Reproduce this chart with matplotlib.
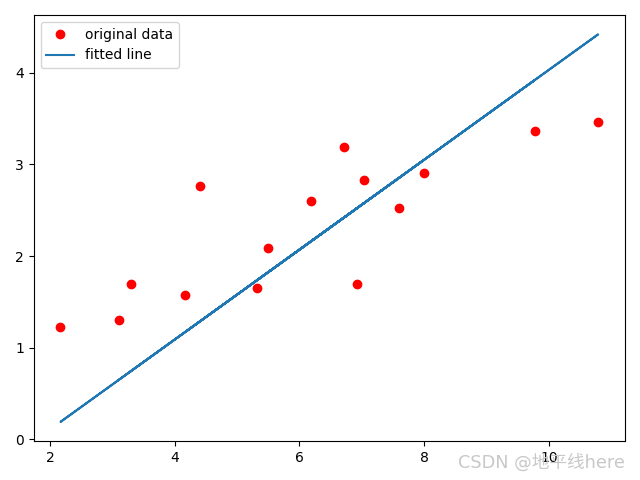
import matplotlib.pyplot as plt

plt.rcParams['font.family'] = ['DejaVu Sans', 'Noto Sans CJK SC']

# training data
x_train = [3.3, 4.4, 5.5, 6.71, 6.93, 4.168, 9.779, 6.182, 7.59, 2.167,
           7.042, 10.791, 5.313, 7.997, 3.1]
y_train = [1.7, 2.76, 2.09, 3.19, 1.694, 1.573, 3.366, 2.596, 2.53, 1.221,
           2.827, 3.465, 1.65, 2.904, 1.3]

# model predictions (same order as x_train)
y_pred = [0.746, 1.285, 1.825, 2.418, 2.526, 1.171, 3.924, 2.159, 2.850, 0.190,
          2.581, 4.420, 1.733, 3.050, 0.648]

fig = plt.figure(figsize=(6.4, 4.8), dpi=100)
plt.plot(x_train, y_train, 'ro', label='original data')
plt.plot(x_train, y_pred, label='fitted line')
plt.legend()
plt.tight_layout()

# watermark (overlaps the "10" tick label, as in the reference)
fig.text(0.977, 0.037, 'CSDN @地平线here', ha='right', va='center',
         color='#c8c8c8', fontsize=12.7,
         family=['DejaVu Sans', 'Noto Sans CJK SC'])

plt.savefig('out.png')
